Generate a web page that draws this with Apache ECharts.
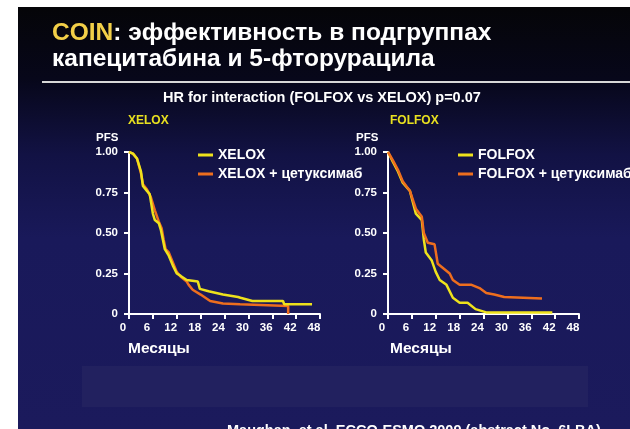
<!DOCTYPE html>
<html><head><meta charset="utf-8">
<script src="https://cdn.jsdelivr.net/npm/echarts@6/dist/echarts.min.js"></script>
<style>html,body{margin:0;padding:0;background:#fff}#c{width:630px;height:429px}</style>
</head><body><div id="c"></div>
<script>
// ---- data ----
var monthTicks = [0, 6, 12, 18, 24, 30, 36, 42, 48];
var pfsTicks = [0, 0.25, 0.5, 0.75, 1];
var seriesNames = ['XELOX', 'XELOX + цетуксимаб', 'FOLFOX', 'FOLFOX + цетуксимаб'];
var xelox = [[0,1],[1,0.99],[2,0.96],[2.5,0.95],[3,0.88],[3.5,0.79],[4.5,0.76],[5.2,0.74],[6,0.62],[6.5,0.58],[7.5,0.56],[8,0.52],[8.5,0.46],[9,0.40],[10,0.36],[11,0.30],[12,0.25],[13,0.235],[14.5,0.21],[15,0.20],[17.3,0.20],[17.8,0.155],[20,0.14],[23.6,0.12],[27.4,0.105],[28,0.10],[31,0.08],[38.7,0.08],[39,0.06],[46,0.06]];
var xeloxCet = [[0,1],[1,0.99],[2,0.96],[3,0.87],[3.5,0.80],[4.5,0.77],[5.5,0.72],[6.5,0.64],[7.5,0.57],[8.2,0.53],[8.7,0.46],[9.2,0.40],[10,0.38],[11,0.32],[12,0.26],[13,0.23],[14.5,0.20],[15,0.18],[16,0.15],[18,0.12],[20.4,0.08],[23.6,0.065],[27.9,0.06],[28,0.05],[40,0.05],[40,0]];
var folfox = [[0,1],[1.2,0.94],[2.5,0.88],[3.7,0.81],[5.5,0.76],[7,0.62],[8.5,0.58],[9,0.46],[9.5,0.38],[11,0.33],[12,0.26],[13,0.21],[14.7,0.18],[16.3,0.10],[18,0.07],[20,0.07],[22,0.03],[24.7,0.01],[41.3,0.01]];
var folfoxCet = [[0,1],[1.2,0.95],[2.5,0.89],[3.7,0.82],[5.5,0.76],[7,0.65],[8.5,0.60],[9,0.50],[10,0.44],[10.5,0.43],[11.7,0.43],[12.5,0.31],[13.5,0.29],[15.5,0.25],[16.3,0.21],[18,0.18],[21,0.18],[23,0.16],[24.7,0.13],[26.7,0.12],[29.2,0.105],[29.7,0.095],[38.7,0.095]];

var FONT = '"Liberation Sans", Arial, sans-serif';
var YEL = '#eee21c', ORA = '#ee6e1e';

function xAx(gi) {
  return {
    type: 'value', gridIndex: gi, min: 0, max: 48, interval: 6,
    axisLine: {show: true, onZero: false, lineStyle: {color: '#fff', width: 2}},
    axisTick: {show: true, length: 5, lineStyle: {color: '#fff', width: 2}},
    splitLine: {show: false},
    axisLabel: {
      margin: 8,
      formatter: function (v) { return '{a|' + v + '}'; },
      rich: {a: {color: '#fff', fontFamily: FONT, fontWeight: 'bold', fontSize: 11.5, padding: [0, 12, 0, 0]}}
    }
  };
}
function yAx(gi) {
  return {
    type: 'value', gridIndex: gi, min: 0, max: 1, interval: 0.25,
    axisLine: {show: true, onZero: false, lineStyle: {color: '#fff', width: 2}},
    axisTick: {show: true, length: 5, lineStyle: {color: '#fff', width: 2}},
    splitLine: {show: false},
    axisLabel: {
      margin: 11, color: '#fff', fontFamily: FONT, fontWeight: 'bold', fontSize: 11.5,
      formatter: function (v) { return v === 0 ? '0' : v.toFixed(2); }
    }
  };
}
function ser(name, data, gi, color, z) {
  return {
    name: name, type: 'line', xAxisIndex: gi, yAxisIndex: gi, data: data,
    showSymbol: false, symbol: 'none', z: z,
    lineStyle: {color: color, width: 2.5}, itemStyle: {color: color},
    animation: false
  };
}
function txt(x, y, s, size, color, align) {
  return {type: 'text', left: x, top: y, z: 10,
    style: {text: s, fill: color || '#fff', font: 'bold ' + size + 'px ' + FONT, textAlign: align || 'left'}};
}

var chart = echarts.init(document.getElementById('c'), null, {renderer: 'canvas'});
chart.setOption({
  animation: false,
  backgroundColor: '#ffffff',
  grid: [
    {left: 129, top: 152, width: 191, height: 162, outerBoundsMode: 'none'},
    {left: 388, top: 152, width: 191, height: 162, outerBoundsMode: 'none'}
  ],
  xAxis: [xAx(0), xAx(1)],
  yAxis: [yAx(0), yAx(1)],
  legend: [
    {data: [seriesNames[0], seriesNames[1]], left: 198, top: 148, padding: 0, orient: 'vertical', icon: 'rect',
     itemWidth: 15, itemHeight: 3, itemGap: 5,
     textStyle: {color: '#fff', fontFamily: FONT, fontWeight: 'bold', fontSize: 14}},
    {data: [seriesNames[2], seriesNames[3]], left: 458, top: 148, padding: 0, orient: 'vertical', icon: 'rect',
     itemWidth: 15, itemHeight: 3, itemGap: 5,
     textStyle: {color: '#fff', fontFamily: FONT, fontWeight: 'bold', fontSize: 14}}
  ],
  series: [
    ser(seriesNames[0], xelox, 0, YEL, 4),
    ser(seriesNames[1], xeloxCet, 0, ORA, 3),
    ser(seriesNames[2], folfox, 1, YEL, 3),
    ser(seriesNames[3], folfoxCet, 1, ORA, 4)
  ],
  graphic: [
    {type: 'rect', shape: {x: 18, y: 7, width: 612, height: 422}, z: -10, silent: true,
     style: {fill: new echarts.graphic.LinearGradient(0, 0, 0, 1, [
       {offset: 0, color: '#050508'}, {offset: 0.17, color: '#07071a'},
       {offset: 0.35, color: '#121244'}, {offset: 0.55, color: '#19195a'}, {offset: 1, color: '#1b1a5c'}])}},
    {type: 'rect', shape: {x: 82, y: 366, width: 506, height: 41}, z: -9, silent: true,
     style: {fill: '#22215f'}},
    {type: 'line', shape: {x1: 42, y1: 82, x2: 630, y2: 82}, z: -8, silent: true,
     style: {stroke: '#d8d8d8', lineWidth: 2}},
    {type: 'text', left: 52, top: 21, z: 10, style: {
      text: '{y|COIN}{w|: эффективность в подгруппах}',
      rich: {y: {fill: '#f2cf48', font: 'bold 24.5px ' + FONT}, w: {fill: '#fff', font: 'bold 24.5px ' + FONT}}}},
    txt(52, 47, 'капецитабина и 5-фторурацила', 24.5),
    txt(163, 90, 'HR for interaction (FOLFOX vs XELOX) p=0.07', 14.5),
    txt(128, 115, 'XELOX', 12, '#e8e020'),
    txt(390, 115, 'FOLFOX', 12, '#e8e020'),
    txt(96, 132, 'PFS', 11.5),
    txt(356, 132, 'PFS', 11.5),
    txt(128, 341, 'Месяцы', 15.5),
    txt(390, 341, 'Месяцы', 15.5),
    txt(227, 423, 'Maughan, et al. ECCO-ESMO 2009 (abstract No. 6LBA)', 14.5)
  ]
});
</script></body></html>
